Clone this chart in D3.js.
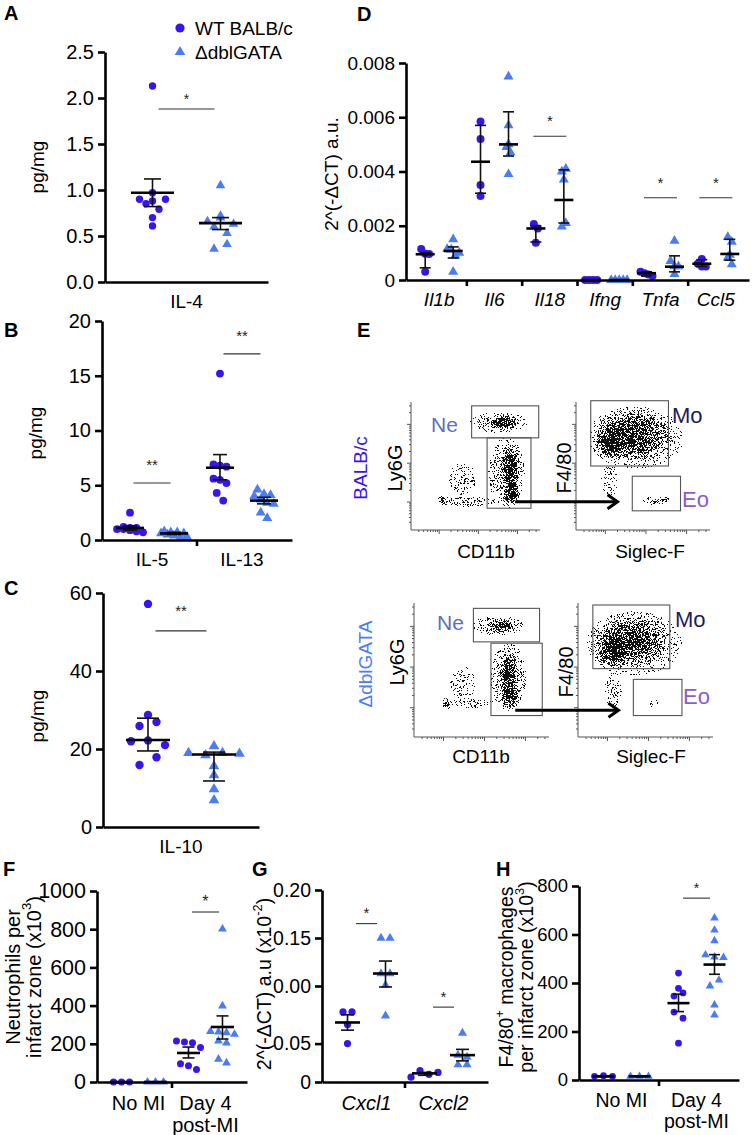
<!DOCTYPE html>
<html><head><meta charset="utf-8">
<script src="https://cdn.jsdelivr.net/npm/d3@7"></script>
<style>body{margin:0;background:#fff;} svg{display:block;}</style>
</head><body>
<script>
// ================= DATA =================
const legendLabels = ["WT BALB/c", "\u0394dblGATA"];

// Panel A
const aCats = ["IL-4"];
const aTicks = [0, 0.5, 1, 1.5, 2, 2.5];
const aTickLabels = ["0.0", "0.5", "1.0", "1.5", "2.0", "2.5"];
const aWT = [[2.13, 0.97, 0.85, 0.90, 0.88, 0.90, 0.79, 0.70, 0.61]];
const aKO = [[1.05, 0.66, 0.70, 0.72, 0.63, 0.60, 0.53, 0.36, 0.41]];
const aWTMean = [0.97], aWTLo = [0.82], aWTHi = [1.12];
const aKOMean = [0.64], aKOLo = [0.57], aKOHi = [0.70];
const aSig = [{cat: "IL-4", y: 1.88, text: "*"}];

// Panel B
const bCats = ["IL-5", "IL-13"];
const bTicks = [0, 5, 10, 15, 20];
const bTickLabels = ["0", "5", "10", "15", "20"];
const bWT = [[2.5, 1.2, 1.1, 1.1, 1.0, 1.0, 0.9, 0.8, 0.7],
             [15.2, 6.9, 6.8, 6.7, 5.6, 5.5, 4.3, 3.6, 5.2]];
const bKO = [[0.8, 0.7, 0.7, 0.6, 0.6, 0.5, 0.4, 0.3, 0.3],
             [4.6, 4.2, 4.1, 4.0, 3.7, 3.4, 3.3, 2.5, 2.0]];
const bWTMean = [1.1, 6.6], bWTLo = [0.9, 5.5], bWTHi = [1.3, 7.8];
const bKOMean = [0.6, 3.6], bKOLo = [0.5, 3.3], bKOHi = [0.7, 3.9];
const bSig = [{cat: "IL-5", y: 5.2, text: "**"}, {cat: "IL-13", y: 17.0, text: "**"}];

// Panel C
const cCats = ["IL-10"];
const cTicks = [0, 20, 40, 60];
const cTickLabels = ["0", "20", "40", "60"];
const cWT = [[57.2, 28.7, 25.9, 26.9, 22.0, 22.2, 21.0, 15.9, 17.9]];
const cKO = [[20.7, 19.0, 18.4, 19.0, 18.8, 15.6, 13.3, 9.7, 6.9]];
const cWTMean = [22.3], cWTLo = [19.5], cWTHi = [27.9];
const cKOMean = [18.6], cKOLo = [11.8], cKOHi = [19.2];
const cSig = [{cat: "IL-10", y: 50.3, text: "**"}];

// Panel D
const dCats = ["Il1b", "Il6", "Il18", "Ifng", "Tnfa", "Ccl5"];
const dTicks = [0, 0.002, 0.004, 0.006, 0.008];
const dTickLabels = ["0", "0.002", "0.004", "0.006", "0.008"];
const dWT = [[0.00114, 0.00097, 0.00096, 0.0003],
             [0.00584, 0.0052, 0.0035, 0.0031],
             [0.00206, 0.0019, 0.00137],
             [0, 0, 0, 0],
             [0.0003, 0.00025, 0.0002, 0.00015],
             [0.00077, 0.0006, 0.0005, 0.0005]];
const dKO = [[0.0015, 0.00114, 0.00112, 0.0009, 0.001, 0.0003],
             [0.0075, 0.0057, 0.005, 0.0049, 0.0047, 0.0039],
             [0.004, 0.0041, 0.0037, 0.00197, 0.0021],
             [0, 0, 0, 0, 0],
             [0.00144, 0.0007, 0.0005, 0.0005, 0.00022],
             [0.00158, 0.00141, 0.00093, 0.00083, 0.00058]];
const dWTMean = [0.00095, 0.00436, 0.0019, 0, 0.00025, 0.0006];
const dWTLo   = [0.00045, 0.0032, 0.0014, 0, 0.00015, 0.0005];
const dWTHi   = [0.00100, 0.0057, 0.0020, 0, 0.0003, 0.00075];
const dKOMean = [0.00107, 0.0050, 0.00295, 0, 0.00049, 0.00096];
const dKOLo   = [0.00081, 0.00457, 0.0021, 0, 0.0003, 0.00073];
const dKOHi   = [0.00122, 0.0062, 0.00406, 0, 0.00089, 0.0015];
const dSig = [{cat: "Il18", y: 0.0053, text: "*"}, {cat: "Tnfa", y: 0.00303, text: "*"}, {cat: "Ccl5", y: 0.00303, text: "*"}];

// Panel F
const fCats = ["No MI", "Day 4 post-MI"];
const fCatLines = [["No MI"], ["Day 4", "post-MI"]];
const fTicks = [0, 200, 400, 600, 800, 1000];
const fTickLabels = ["0", "200", "400", "600", "800", "1000"];
const fWT = [[0, 0, 0], [215, 210, 205, 180, 95, 85, 65]];
const fKO = [[0, 0, 0], [801, 398, 265, 262, 258, 250, 215, 205, 120, 100]];
const fWTMean = [0, 152], fWTLo = [0, 126], fWTHi = [0, 183];
const fKOMean = [0, 288], fKOLo = [0, 225], fKOHi = [0, 346];
const fSig = [{cat: "Day 4 post-MI", y: 890, text: "*"}];

// Panel G
const gCats = ["Cxcl1", "Cxcl2"];
const gTicks = [0, 0.04, 0.10, 0.15, 0.20];
const gTickLabels = ["0", "0.05", "0.00", "0.15", "0.20"];
const gWT = [[0.073, 0.073, 0.060, 0.040], [0.005, 0.012, 0.008, 0.010]];
const gKO = [[0.150, 0.150, 0.113, 0.113, 0.101, 0.069], [0.051, 0.028, 0.026, 0.018, 0.018]];
const gWTMean = [0.062, 0.009], gWTLo = [0.054, 0.007], gWTHi = [0.070, 0.010];
const gKOMean = [0.113, 0.028], gKOLo = [0.099, 0.022], gKOHi = [0.126, 0.034];
const gSig = [{cat: "Cxcl1", y: 0.165, text: "*"}, {cat: "Cxcl2", y: 0.078, text: "*"}];

// Panel H
const hCats = ["No MI", "Day 4 post-MI"];
const hCatLines = [["No MI"], ["Day 4", "post-MI"]];
const hTicks = [0, 200, 400, 600, 800];
const hTickLabels = ["0", "200", "400", "600", "800"];
const hWT = [[15, 18, 15], [441, 378, 346, 359, 280, 255, 152]];
const hKO = [[15, 15, 15], [668, 618, 574, 516, 507, 505, 388, 412, 309, 268]];
const hWTMean = [15, 317], hWTLo = [14, 282], hWTHi = [16, 354];
const hKOMean = [15, 476], hKOLo = [14, 436], hKOHi = [16, 517];
const hSig = [{cat: "Day 4 post-MI", y: 750, text: "*"}];

// Panel E: flow cytometry populations (relative plot units) and gates
const eTopLeftPops = [
  {u: 0.72, v: 0.84, rx: 0.12, ry: 0.05, w: 1.0},
  {u: 0.68, v: 0.84, rx: 0.24, ry: 0.085, w: 0.32},
  {u: 0.78, v: 0.28, rx: 0.07, ry: 0.10, w: 1.0},
  {u: 0.77, v: 0.48, rx: 0.08, ry: 0.21, w: 0.9},
  {u: 0.74, v: 0.45, rx: 0.15, ry: 0.29, w: 0.32},
  {u: 0.25, v: 0.23, rx: 0.035, ry: 0.035, w: 1.0},
  {u: 0.45, v: 0.22, rx: 0.22, ry: 0.035, w: 0.32},
  {u: 0.40, v: 0.40, rx: 0.12, ry: 0.15, w: 0.14}
];
const eTopRightPops = [
  {u: 0.42, v: 0.74, rx: 0.32, ry: 0.22, w: 0.75},
  {u: 0.26, v: 0.68, rx: 0.12, ry: 0.14, w: 0.85},
  {u: 0.45, v: 0.72, rx: 0.40, ry: 0.27, w: 0.18},
  {u: 0.25, v: 0.38, rx: 0.07, ry: 0.14, w: 0.2},
  {u: 0.60, v: 0.23, rx: 0.11, ry: 0.03, w: 0.35},
  {u: 0.66, v: 0.24, rx: 0.03, ry: 0.025, w: 0.7}
];
const eBotLeftPops = [
  {u: 0.66, v: 0.83, rx: 0.11, ry: 0.045, w: 1.0},
  {u: 0.62, v: 0.83, rx: 0.21, ry: 0.075, w: 0.3},
  {u: 0.71, v: 0.30, rx: 0.07, ry: 0.09, w: 1.0},
  {u: 0.70, v: 0.45, rx: 0.07, ry: 0.20, w: 0.9},
  {u: 0.70, v: 0.45, rx: 0.14, ry: 0.27, w: 0.32},
  {u: 0.24, v: 0.25, rx: 0.03, ry: 0.035, w: 1.0},
  {u: 0.42, v: 0.25, rx: 0.20, ry: 0.035, w: 0.28},
  {u: 0.36, v: 0.40, rx: 0.11, ry: 0.15, w: 0.13}
];
const eBotRightPops = [
  {u: 0.40, v: 0.72, rx: 0.30, ry: 0.20, w: 0.8},
  {u: 0.25, v: 0.64, rx: 0.12, ry: 0.14, w: 0.9},
  {u: 0.42, v: 0.70, rx: 0.40, ry: 0.27, w: 0.18},
  {u: 0.26, v: 0.35, rx: 0.07, ry: 0.14, w: 0.22},
  {u: 0.55, v: 0.25, rx: 0.10, ry: 0.05, w: 0.05}
];
const eTopLeftGates = [{u0: 0.47, u1: 0.99, v0: 0.72, v1: 0.97}, {u0: 0.59, u1: 0.93, v0: 0.17, v1: 0.72}];
const eTopRightGates = [{u0: 0.11, u1: 0.69, v0: 0.50, v1: 1.01}, {u0: 0.42, u1: 0.78, v0: 0.15, v1: 0.42}];
const eBotLeftGates = [{u0: 0.44, u1: 0.93, v0: 0.71, v1: 0.96}, {u0: 0.57, u1: 0.95, v0: 0.16, v1: 0.70}];
const eBotRightGates = [{u0: 0.11, u1: 0.68, v0: 0.51, v1: 0.985}, {u0: 0.41, u1: 0.77, v0: 0.16, v1: 0.43}];

// ================= RENDER =================
const W = 752, H = 1135;
const FONT = "'Liberation Sans', Arial, Helvetica, sans-serif";
const WTC = "#3a14ef", KOC = "#4b7cf6";
const svg = d3.select("body").append("svg").attr("width", W).attr("height", H)
  .attr("font-family", FONT);
const defs = svg.append("defs");

function dodge(vals, y, thresh, spacing, maxRow) {
  const order = d3.range(vals.length).sort((a, b) => (y(vals[a]) - y(vals[b])) * -1 || a - b);
  const off = vals.map(() => 0);
  let row = [], rowY = null;
  const flush = () => {
    const r = row.slice().sort((a, b) => a - b);
    r.forEach((k, j) => off[k] = (j - (r.length - 1) / 2) * spacing);
  };
  order.forEach(i => {
    const py = y(vals[i]);
    if (rowY !== null && Math.abs(py - rowY) < thresh && row.length < maxRow) row.push(i);
    else { if (row.length) flush(); row = [i]; rowY = py; }
  });
  if (row.length) flush();
  return off;
}

function rotText(cx, cy, size, segs, color) {
  const t = svg.append("text").attr("transform", `translate(${cx},${cy}) rotate(-90)`)
    .attr("text-anchor", "middle").attr("dominant-baseline", "central")
    .attr("font-size", size).attr("fill", color || "#000");
  let shifted = false;
  segs.forEach(s => {
    if (typeof s === "string") {
      const ts = t.append("tspan").text(s);
      if (shifted) { ts.attr("dy", size * 0.38); shifted = false; }
    } else {
      t.append("tspan").attr("font-size", size * 0.66).attr("dy", -size * 0.38).text(s.sup);
      shifted = true;
    }
  });
  return t;
}

function plainText(x, y, str, size, opts = {}) {
  return svg.append("text").attr("x", x).attr("y", y).text(str)
    .attr("font-size", size).attr("fill", opts.color || "#000")
    .attr("text-anchor", opts.anchor || "start")
    .attr("font-weight", opts.weight || "normal")
    .attr("font-style", opts.style || "normal");
}

function dotPanel(p) {
  const y = d3.scaleLinear().domain(p.yDomain).range([p.yBottom, p.yTop]);
  const x = d3.scalePoint().domain(p.cats).range([p.x0, p.x1]).padding(p.pad);
  const g = svg.append("g");

  // points
  p.cats.forEach((c, i) => {
    const cx = x(c);
    const wo = dodge(p.wt[i], y, p.thresh, p.spacing, p.maxRow);
    g.append("g").selectAll("circle").data(p.wt[i]).join("circle")
      .attr("cx", (d, j) => cx - p.gOff + wo[j]).attr("cy", d => y(d))
      .attr("r", p.r).attr("fill", WTC);
    const ko = dodge(p.ko[i], y, p.thresh, p.spacing, p.maxRow);
    g.append("g").selectAll("path").data(p.ko[i]).join("path")
      .attr("d", d3.symbol(d3.symbolTriangle, p.tri)())
      .attr("transform", (d, j) => `translate(${cx + p.gOff + ko[j]},${y(d)})`)
      .attr("fill", KOC);
  });

  // mean / error
  const groups = [{off: -p.gOff, m: p.wtMean, lo: p.wtLo, hi: p.wtHi},
                  {off: p.gOff, m: p.koMean, lo: p.koLo, hi: p.koHi}];
  groups.forEach(s => {
    const gg = g.append("g").attr("stroke", "#111");
    const rows = p.cats.map((c, i) => ({cx: x(c) + s.off, m: s.m[i], lo: s.lo[i], hi: s.hi[i]}));
    gg.selectAll(".ev").data(rows).join("line").attr("class", "ev")
      .attr("x1", d => d.cx).attr("x2", d => d.cx).attr("y1", d => y(d.lo)).attr("y2", d => y(d.hi))
      .attr("stroke-width", 1.6);
    gg.selectAll(".cl").data(rows).join("line").attr("class", "cl")
      .attr("x1", d => d.cx - p.capW / 2).attr("x2", d => d.cx + p.capW / 2)
      .attr("y1", d => y(d.lo)).attr("y2", d => y(d.lo)).attr("stroke-width", 1.6);
    gg.selectAll(".ch").data(rows).join("line").attr("class", "ch")
      .attr("x1", d => d.cx - p.capW / 2).attr("x2", d => d.cx + p.capW / 2)
      .attr("y1", d => y(d.hi)).attr("y2", d => y(d.hi)).attr("stroke-width", 1.6);
    gg.selectAll(".mn").data(rows).join("line").attr("class", "mn")
      .attr("x1", d => d.cx - p.meanW / 2).attr("x2", d => d.cx + p.meanW / 2)
      .attr("y1", d => y(d.m)).attr("y2", d => y(d.m)).attr("stroke-width", 2.6).attr("stroke", "#000");
  });

  // significance
  const sg = g.append("g");
  sg.selectAll("line").data(p.sig).join("line")
    .attr("x1", d => x(d.cat) - p.sigHalf).attr("x2", d => x(d.cat) + p.sigHalf)
    .attr("y1", d => y(d.y)).attr("y2", d => y(d.y)).attr("stroke", "#333").attr("stroke-width", 1.1);
  sg.selectAll("text").data(p.sig).join("text")
    .attr("x", d => x(d.cat)).attr("y", d => y(d.y) - p.starGap + 0.58 * p.starSize)
    .attr("text-anchor", "middle").attr("font-size", p.starSize).attr("fill", "#222").text(d => d.text);

  // y axis
  const ya = d3.axisLeft(y).tickValues(p.yTicks).tickFormat((d, i) => p.yTickLabels[i])
    .tickSize(7).tickSizeOuter(0).tickPadding(4);
  const gy = svg.append("g").attr("transform", `translate(${p.x0},0)`).call(ya)
    .attr("font-size", p.tickFont).attr("font-family", FONT);
  gy.select(".domain").attr("stroke", "#000").attr("stroke-width", 2.6);
  gy.selectAll(".tick line").attr("stroke", "#000").attr("stroke-width", 2.6);
  gy.selectAll(".tick text").attr("fill", "#000");

  // x axis
  const xa = d3.axisBottom(x).tickValues([]).tickSizeOuter(0);
  const gx = svg.append("g").attr("transform", `translate(0,${p.yBottom})`).call(xa);
  gx.select(".domain").attr("stroke", "#000").attr("stroke-width", 2.6);
  gx.selectAll(".sep").data(d3.pairs(p.cats)).join("line").attr("class", "sep")
    .attr("x1", d => (x(d[0]) + x(d[1])) / 2).attr("x2", d => (x(d[0]) + x(d[1])) / 2)
    .attr("y1", 0).attr("y2", 6).attr("stroke", "#000").attr("stroke-width", 2.6);

  // category labels
  const gap = p.lineGap || 0;
  p.cats.forEach((c, i) => {
    const lines = p.catLines ? p.catLines[i] : [c];
    lines.forEach((ln, k) => {
      plainText(x(c), p.xLabelY + k * gap, ln, p.labelFont,
        {anchor: "middle", style: p.italic ? "italic" : "normal"});
    });
  });
  return {x, y};
}

// ---------- Panel letters ----------
[["A", 4, 20], ["B", 4, 337], ["C", 4, 595], ["D", 357, 21], ["E", 357, 337],
 ["F", 3, 876], ["G", 252, 876], ["H", 496, 876]].forEach(([t, x, y]) =>
  plainText(x, y, t, 20, {weight: "bold"}));

// ---------- Legend ----------
svg.append("circle").attr("cx", 180).attr("cy", 28).attr("r", 4.6).attr("fill", WTC);
svg.append("path").attr("d", d3.symbol(d3.symbolTriangle, 48)())
  .attr("transform", "translate(180,52)").attr("fill", KOC);
plainText(195, 35, legendLabels[0], 19);
plainText(195, 59, legendLabels[1], 19);

// ---------- Panel A ----------
dotPanel({cats: aCats, yDomain: [0, 2.5], yTop: 52, yBottom: 282, x0: 105, x1: 268, pad: 0.5,
  yTicks: aTicks, yTickLabels: aTickLabels, wt: aWT, ko: aKO,
  wtMean: aWTMean, wtLo: aWTLo, wtHi: aWTHi, koMean: aKOMean, koLo: aKOLo, koHi: aKOHi,
  sig: aSig, sigHalf: 28, starGap: 13, starSize: 14, gOff: 34, r: 3.7, tri: 40,
  thresh: 7, spacing: 13, maxRow: 4, meanW: 43, capW: 17, tickFont: 20,
  xLabelY: 308, labelFont: 19});
rotText(37, 167, 19, ["pg/mg"]);

// ---------- Panel B ----------
dotPanel({cats: bCats, yDomain: [0, 20], yTop: 321, yBottom: 540, x0: 102, x1: 292, pad: 0.556,
  yTicks: bTicks, yTickLabels: bTickLabels, wt: bWT, ko: bKO,
  wtMean: bWTMean, wtLo: bWTLo, wtHi: bWTHi, koMean: bKOMean, koLo: bKOLo, koHi: bKOHi,
  sig: bSig, sigHalf: 18.5, starGap: 22, starSize: 15, gOff: 22, r: 3.9, tri: 44,
  thresh: 8, spacing: 6.5, maxRow: 5, meanW: 28, capW: 14, tickFont: 20,
  xLabelY: 566, labelFont: 19});
rotText(35, 433, 19, ["pg/mg"]);

// ---------- Panel C ----------
dotPanel({cats: cCats, yDomain: [0, 60], yTop: 593, yBottom: 827, x0: 103, x1: 259, pad: 0.5,
  yTicks: cTicks, yTickLabels: cTickLabels, wt: cWT, ko: cKO,
  wtMean: cWTMean, wtLo: cWTLo, wtHi: cWTHi, koMean: cKOMean, koLo: cKOLo, koHi: cKOHi,
  sig: cSig, sigHalf: 25.5, starGap: 24, starSize: 15, gOff: 33, r: 4.2, tri: 50,
  thresh: 8, spacing: 17, maxRow: 4, meanW: 44, capW: 22, tickFont: 20,
  xLabelY: 853, labelFont: 19});
rotText(37, 716, 19, ["pg/mg"]);

// ---------- Panel D ----------
dotPanel({cats: dCats, yDomain: [0, 0.008], yTop: 63, yBottom: 280, x0: 406, x1: 749, pad: 0.6,
  yTicks: dTicks, yTickLabels: dTickLabels, wt: dWT, ko: dKO,
  wtMean: dWTMean, wtLo: dWTLo, wtHi: dWTHi, koMean: dKOMean, koLo: dKOLo, koHi: dKOHi,
  sig: dSig, sigHalf: 16.5, starGap: 19, starSize: 15, gOff: 14, r: 4, tri: 44,
  thresh: 7, spacing: 4, maxRow: 5, meanW: 19, capW: 11, tickFont: 19,
  xLabelY: 306, labelFont: 19, italic: true});
rotText(331, 174, 19, ["2^(-\u0394CT) a.u."]);

// ---------- Panel F ----------
dotPanel({cats: fCats, catLines: fCatLines, lineGap: 22, yDomain: [0, 1000], yTop: 891, yBottom: 1082,
  x0: 97, x1: 247, pad: 0.62,
  yTicks: fTicks, yTickLabels: fTickLabels, wt: fWT, ko: fKO,
  wtMean: fWTMean, wtLo: fWTLo, wtHi: fWTHi, koMean: fKOMean, koLo: fKOLo, koHi: fKOHi,
  sig: fSig, sigHalf: 13.5, starGap: 14, starSize: 16, gOff: 17, r: 3.5, tri: 34,
  thresh: 7, spacing: 8, maxRow: 4, meanW: 23, capW: 12, tickFont: 21.5,
  xLabelY: 1110, labelFont: 20});
rotText(13, 977, 20, ["Neutrophils per"]);
rotText(34, 977, 20, ["infarct zone (x10", {sup: "3"}, ")"]);

// ---------- Panel G ----------
dotPanel({cats: gCats, yDomain: [0, 0.2], yTop: 890, yBottom: 1082, x0: 322, x1: 488, pad: 0.578,
  yTicks: gTicks, yTickLabels: gTickLabels, wt: gWT, ko: gKO,
  wtMean: gWTMean, wtLo: gWTLo, wtHi: gWTHi, koMean: gKOMean, koLo: gKOLo, koHi: gKOHi,
  sig: gSig, sigHalf: 10.5, starGap: 14, starSize: 15, gOff: 19, r: 3.6, tri: 36,
  thresh: 7, spacing: 9, maxRow: 4, meanW: 25, capW: 13, tickFont: 19.5,
  xLabelY: 1110, labelFont: 20, italic: true});
rotText(264, 984, 19.5, ["2^(-\u0394CT) a.u (x10", {sup: "-2"}, ")"]);

// ---------- Panel H ----------
dotPanel({cats: hCats, catLines: hCatLines, lineGap: 21, yDomain: [0, 800], yTop: 886, yBottom: 1080,
  x0: 579, x1: 739, pad: 0.567,
  yTicks: hTicks, yTickLabels: hTickLabels, wt: hWT, ko: hKO,
  wtMean: hWTMean, wtLo: hWTLo, wtHi: hWTHi, koMean: hKOMean, koLo: hKOLo, koHi: hKOHi,
  sig: hSig, sigHalf: 13.5, starGap: 13, starSize: 14, gOff: 18, r: 3.4, tri: 32,
  thresh: 7.5, spacing: 9, maxRow: 4, meanW: 22, capW: 11, tickFont: 18.5,
  xLabelY: 1107, labelFont: 19.5});
rotText(506, 977, 19.5, ["F4/80", {sup: "+"}, " macrophages"]);
rotText(526, 977, 19.5, ["per infarct zone (x10", {sup: "3"}, ")"]);

// ---------- Panel E : flow plots ----------
const rg = defs.append("radialGradient").attr("id", "blob");
rg.append("stop").attr("offset", "0%").attr("stop-color", "#000").attr("stop-opacity", 1);
rg.append("stop").attr("offset", "50%").attr("stop-color", "#000").attr("stop-opacity", 0.7);
rg.append("stop").attr("offset", "100%").attr("stop-color", "#000").attr("stop-opacity", 0);
const flt = defs.append("filter").attr("id", "speck").attr("filterUnits", "userSpaceOnUse")
  .attr("x", 0).attr("y", 0).attr("width", W).attr("height", H)
  .attr("color-interpolation-filters", "sRGB");
flt.append("feGaussianBlur").attr("in", "SourceAlpha").attr("stdDeviation", 1).attr("result", "d");
flt.append("feTurbulence").attr("type", "fractalNoise").attr("baseFrequency", 1.7)
  .attr("numOctaves", 1).attr("seed", 4).attr("result", "t");
flt.append("feColorMatrix").attr("in", "t").attr("type", "matrix")
  .attr("values", "0 0 0 0 0  0 0 0 0 0  0 0 0 0 0  3.5 0 0 0 -1.3").attr("result", "n");
flt.append("feComposite").attr("in", "d").attr("in2", "n").attr("operator", "arithmetic")
  .attr("k1", 0).attr("k2", 1).attr("k3", -1).attr("k4", 0.47).attr("result", "c");
flt.append("feComponentTransfer").attr("in", "c").attr("result", "th")
  .append("feFuncA").attr("type", "discrete").attr("tableValues", "0 1");
flt.append("feColorMatrix").attr("in", "th").attr("type", "matrix")
  .attr("values", "0 0 0 0 0.06  0 0 0 0 0.06  0 0 0 0 0.06  0 0 0 1 0");

function flowPlot(id, fr, pops, gates) {
  const xs = d3.scaleLinear().domain([0, 1]).range([fr.x0, fr.x1]);
  const ys = d3.scaleLinear().domain([0, 1]).range([fr.yBottom, fr.yTop]);
  const pw = fr.x1 - fr.x0, ph = fr.yBottom - fr.yTop;
  defs.append("clipPath").attr("id", "clip" + id).append("rect")
    .attr("x", fr.x0 + 1).attr("y", fr.yTop).attr("width", pw).attr("height", ph - 1);
  const g = svg.append("g");
  const dens = g.append("g").attr("clip-path", `url(#clip${id})`).append("g").attr("filter", "url(#speck)");
  dens.selectAll("ellipse").data(pops).join("ellipse")
    .attr("cx", d => xs(d.u)).attr("cy", d => ys(d.v))
    .attr("rx", d => d.rx * pw).attr("ry", d => d.ry * ph)
    .attr("fill", "url(#blob)").attr("fill-opacity", d => d.w);
  g.selectAll(".gate").data(gates).join("rect").attr("class", "gate")
    .attr("x", d => xs(d.u0)).attr("y", d => ys(d.v1))
    .attr("width", d => xs(d.u1) - xs(d.u0)).attr("height", d => ys(d.v0) - ys(d.v1))
    .attr("fill", "none").attr("stroke", "#555").attr("stroke-width", 1.1);
  // axes with log-style ticks
  const ax = g.append("g").attr("stroke", "#555").attr("stroke-width", 1);
  ax.append("line").attr("x1", fr.x0).attr("x2", fr.x0).attr("y1", fr.yTop).attr("y2", fr.yBottom);
  ax.append("line").attr("x1", fr.x0).attr("x2", fr.x1).attr("y1", fr.yBottom).attr("y2", fr.yBottom);
  const ls = d3.scaleLog().domain([30, 3e4]).range([0.06, 0.97]);
  const tk = ls.ticks().map(t => ({p: ls(t), major: Math.abs(Math.log10(t) % 1) < 1e-9}));
  ax.selectAll(".ty").data(tk).join("line").attr("class", "ty")
    .attr("x1", fr.x0).attr("x2", d => fr.x0 - (d.major ? 4 : 2))
    .attr("y1", d => ys(d.p)).attr("y2", d => ys(d.p));
  ax.selectAll(".tx").data(tk).join("line").attr("class", "tx")
    .attr("y1", fr.yBottom).attr("y2", d => fr.yBottom + (d.major ? 4 : 2))
    .attr("x1", d => xs(d.p)).attr("x2", d => xs(d.p));
  return {xs, ys};
}

const tlF = {x0: 411, x1: 540, yTop: 402, yBottom: 530};
const trF = {x0: 576, x1: 710, yTop: 402, yBottom: 530};
const blF = {x0: 414, x1: 549, yTop: 603, yBottom: 737};
const brF = {x0: 578, x1: 713, yTop: 603, yBottom: 737};
const TL = flowPlot("tl", tlF, eTopLeftPops, eTopLeftGates);
const TR = flowPlot("tr", trF, eTopRightPops, eTopRightGates);
const BL = flowPlot("bl", blF, eBotLeftPops, eBotLeftGates);
const BR = flowPlot("br", brF, eBotRightPops, eBotRightGates);

function arrow(x1, x2, yy) {
  svg.append("line").attr("x1", x1).attr("x2", x2 - 1).attr("y1", yy).attr("y2", yy)
    .attr("stroke", "#000").attr("stroke-width", 3);
  svg.append("path").attr("d", `M${x2 - 10},${yy - 7} L${x2},${yy} L${x2 - 10},${yy + 7}`)
    .attr("fill", "none").attr("stroke", "#000").attr("stroke-width", 3).attr("stroke-linejoin", "miter");
}
arrow(TL.xs(0.81), TR.xs(0.31), TL.ys(0.22));
arrow(BL.xs(0.75), BR.xs(0.30), BL.ys(0.20));

// flow labels
plainText(431, 432, "Ne", 21, {color: "#5b6fc2"});
plainText(672, 423, "Mo", 22, {color: "#1c1c5e"});
plainText(682, 507, "Eo", 22, {color: "#8d5ccc"});
plainText(437, 630, "Ne", 21, {color: "#5b6fc2"});
plainText(675, 627, "Mo", 22, {color: "#1c1c5e"});
plainText(683, 704, "Eo", 22, {color: "#8d5ccc"});
plainText(486, 558, "CD11b", 19, {anchor: "middle"});
plainText(650, 558, "Siglec-F", 19, {anchor: "middle"});
plainText(481, 763, "CD11b", 19, {anchor: "middle"});
plainText(651, 763, "Siglec-F", 19, {anchor: "middle"});
rotText(395, 468, 20, ["Ly6G"]);
rotText(564, 468, 20, ["F4/80"]);
rotText(397, 662, 20, ["Ly6G"]);
rotText(566, 672, 20, ["F4/80"]);
rotText(360, 468, 19, ["BALB/c"], WTC);
rotText(365, 664, 19, ["\u0394dblGATA"], KOC);
</script>
</body></html>
